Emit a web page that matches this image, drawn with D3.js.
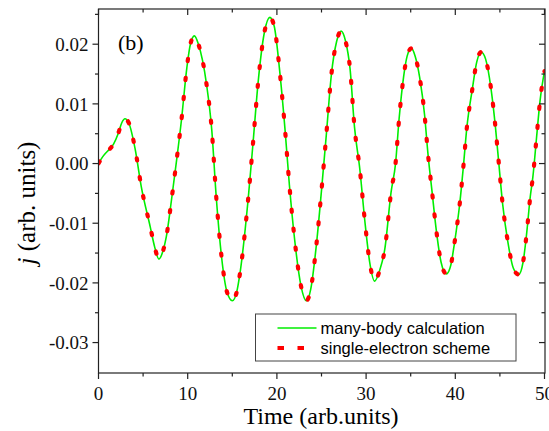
<!DOCTYPE html>
<html>
<head>
<meta charset="utf-8">
<script src="https://cdn.jsdelivr.net/npm/d3@7"></script>
<style>
  body { margin: 0; background: #fff; }
</style>
</head>
<body>
<div id="chart"></div>
<script>
// time values (arb. units)
const times = [
  0, 0.5, 0.9, 1.3, 1.7, 2.2, 2.6, 2.97, 3.4, 4.1, 4.8, 5.8, 6.3, 6.77, 7.2, 7.6,
  8.2, 8.76, 9.3, 9.9, 10.3, 10.75, 11.2, 12.1, 12.7, 13.2, 13.8, 14.4, 15.0, 15.5,
  15.85, 16.8, 17.35, 17.9, 18.6, 19.2, 19.7, 20.3, 20.9, 21.4, 22.0, 22.7, 23.3,
  23.8, 24.4, 25.0, 25.55, 26.1, 26.7, 27.2, 27.7, 28.2, 28.7, 29.3, 29.85, 30.4,
  30.96, 31.5, 32.1, 32.8, 33.3, 33.7, 34.2, 34.6, 35.07, 35.5, 36.0, 36.56, 36.93,
  37.4, 37.87, 38.4, 39.0, 39.5, 39.9, 40.5, 40.9, 41.3, 41.9, 42.4, 42.9, 43.4,
  44.0, 44.5, 44.9, 45.3, 45.9, 46.5, 47.1, 47.6, 48.0, 48.4, 48.7, 49.1, 49.5, 50.0
];
// current j, same for both series (they lie on top of each other)
const current = [
  0.0, 0.0012, 0.0019, 0.0025, 0.0033, 0.0050, 0.0068, 0.0075, 0.0068, 0.0025, -0.0039,
  -0.0106, -0.0140, -0.0160, -0.0148, -0.0123, -0.0059, 0.0006, 0.0073, 0.0160, 0.0200,
  0.0214, 0.0200, 0.0134, 0.0056, -0.0056, -0.0157, -0.0215, -0.0230, -0.0215, -0.0185,
  -0.0056, 0.0039, 0.0137, 0.0220, 0.0245, 0.0230, 0.0157, 0.0059, -0.0036, -0.0129,
  -0.0205, -0.0230, -0.0210, -0.0140, -0.0045, 0.0050, 0.0148, 0.0205, 0.0222, 0.0205,
  0.0159, 0.0061, -0.0010, -0.0095, -0.0165, -0.0197, -0.0180, -0.0143, -0.0048, 0.0000,
  0.0075, 0.0145, 0.0180, 0.0193, 0.0180, 0.0145, 0.0081, 0.0017, -0.0048, -0.0112,
  -0.0165, -0.0185, -0.0170, -0.0134, -0.0067, -0.0006, 0.0061, 0.0124, 0.0170, 0.0187,
  0.0175, 0.0126, 0.0061, -0.0003, -0.0067, -0.0132, -0.0175, -0.0186, -0.0165, -0.0117,
  -0.0056, -0.0022, 0.0042, 0.0105, 0.0155
];
const xTicks = [0, 10, 20, 30, 40, 50];
const yTicks = [-0.03, -0.02, -0.01, 0.00, 0.01, 0.02];
const yTickLabels = ["-0.03", "-0.02", "-0.01", "0.00", "0.01", "0.02"];
const seriesNames = ["many-body calculation", "single-electron scheme"];

const serif = "'Liberation Serif', 'Times New Roman', 'DejaVu Serif', serif";
const sans = "'Liberation Sans', Arial, sans-serif";

const width = 549, height = 431;
const margin = { top: 9, right: 4, bottom: 58, left: 98.5 };
const innerW = width - margin.left - margin.right;
const innerH = height - margin.top - margin.bottom;

const svg = d3.select("#chart").append("svg")
  .attr("width", width)
  .attr("height", height);

const g = svg.append("g")
  .attr("transform", `translate(${margin.left},${margin.top})`);

const x = d3.scaleLinear().domain([0, 50]).range([0, innerW - 0.5]);
const y = d3.scaleLinear().domain([-0.0351, 0.0259]).range([innerH, 0]);

const data = times.map((t, i) => ({ t: t, j: current[i] }));

svg.append("clipPath").attr("id", "clip")
  .append("rect").attr("width", innerW).attr("height", innerH);

const line = d3.line()
  .x(d => x(d.t))
  .y(d => y(d.j))
  .curve(d3.curveMonotoneX);

const plot = g.append("g").attr("clip-path", "url(#clip)");

plot.append("path")
  .datum(data)
  .attr("fill", "none")
  .attr("stroke", "#00ee00")
  .attr("stroke-width", 1.6)
  .attr("d", line);

plot.append("path")
  .datum(data)
  .attr("fill", "none")
  .attr("stroke", "#ff0000")
  .attr("stroke-width", 4.2)
  .attr("stroke-linecap", "round")
  .attr("stroke-dasharray", "2.2,16.8")
  .attr("d", line);

// frame and ticks
const frameColor = "#222";
g.append("rect")
  .attr("width", innerW).attr("height", innerH)
  .attr("fill", "none").attr("stroke", frameColor).attr("stroke-width", 1.2);

const xMinor = d3.range(5, 50, 10);
const yMinor = d3.range(-0.025, 0.026, 0.01);

xTicks.forEach(v => {
  g.append("line").attr("x1", x(v)).attr("x2", x(v)).attr("y1", innerH).attr("y2", innerH + 6)
    .attr("stroke", frameColor).attr("stroke-width", 1.2);
  g.append("line").attr("x1", x(v)).attr("x2", x(v)).attr("y1", 0).attr("y2", 6)
    .attr("stroke", frameColor).attr("stroke-width", 1.2);
  g.append("text")
    .attr("font-family", serif).attr("font-size", 19).attr("fill", "#111")
    .attr("x", x(v)).attr("y", innerH + 27)
    .attr("text-anchor", "middle").text(v);
});
xMinor.forEach(v => {
  g.append("line").attr("x1", x(v)).attr("x2", x(v)).attr("y1", innerH).attr("y2", innerH + 3.5)
    .attr("stroke", frameColor).attr("stroke-width", 1.2);
  g.append("line").attr("x1", x(v)).attr("x2", x(v)).attr("y1", 0).attr("y2", 3.5)
    .attr("stroke", frameColor).attr("stroke-width", 1.2);
});

yTicks.forEach((v, i) => {
  g.append("line").attr("x1", -6).attr("x2", 0).attr("y1", y(v)).attr("y2", y(v))
    .attr("stroke", frameColor).attr("stroke-width", 1.2);
  g.append("line").attr("x1", innerW - 6).attr("x2", innerW).attr("y1", y(v)).attr("y2", y(v))
    .attr("stroke", frameColor).attr("stroke-width", 1.2);
  g.append("text")
    .attr("font-family", serif).attr("font-size", 19).attr("fill", "#111")
    .attr("x", -10).attr("y", y(v)).attr("dy", "0.35em")
    .attr("text-anchor", "end").text(yTickLabels[i]);
});
yMinor.forEach(v => {
  g.append("line").attr("x1", -3.5).attr("x2", 0).attr("y1", y(v)).attr("y2", y(v))
    .attr("stroke", frameColor).attr("stroke-width", 1.2);
  g.append("line").attr("x1", innerW - 3.5).attr("x2", innerW).attr("y1", y(v)).attr("y2", y(v))
    .attr("stroke", frameColor).attr("stroke-width", 1.2);
});

// axis titles
svg.append("text")
  .attr("font-family", serif).attr("font-size", 24)
  .attr("x", 321).attr("y", 424)
  .attr("text-anchor", "middle").text("Time (arb.units)");

const yt = svg.append("text")
  .attr("font-family", serif).attr("font-size", 25)
  .attr("transform", "translate(35,203) rotate(-90)")
  .attr("text-anchor", "middle");
yt.append("tspan").attr("font-style", "italic").text("j");
yt.append("tspan").text(" (arb. units)");

// panel label
svg.append("text")
  .attr("font-family", serif).attr("font-size", 22)
  .attr("x", 118).attr("y", 50).text("(b)");

// legend
const lg = svg.append("g").attr("transform", "translate(255.5,314)");
lg.append("rect").attr("width", 260.5).attr("height", 47)
  .attr("fill", "#fff").attr("stroke", "#444").attr("stroke-width", 1);
lg.append("line").attr("x1", 22).attr("x2", 61).attr("y1", 14).attr("y2", 14)
  .attr("stroke", "#00ee00").attr("stroke-width", 1.6);
lg.append("line").attr("x1", 22).attr("x2", 61).attr("y1", 34).attr("y2", 34)
  .attr("stroke", "#ff0000").attr("stroke-width", 4.2)
  .attr("stroke-dasharray", "6.5,13.5");
seriesNames.forEach((s, i) => {
  lg.append("text")
    .attr("font-family", sans).attr("font-size", 16.5)
    .attr("x", 65).attr("y", 14 + i * 20).attr("dy", "0.35em").text(s);
});
</script>
</body>
</html>
